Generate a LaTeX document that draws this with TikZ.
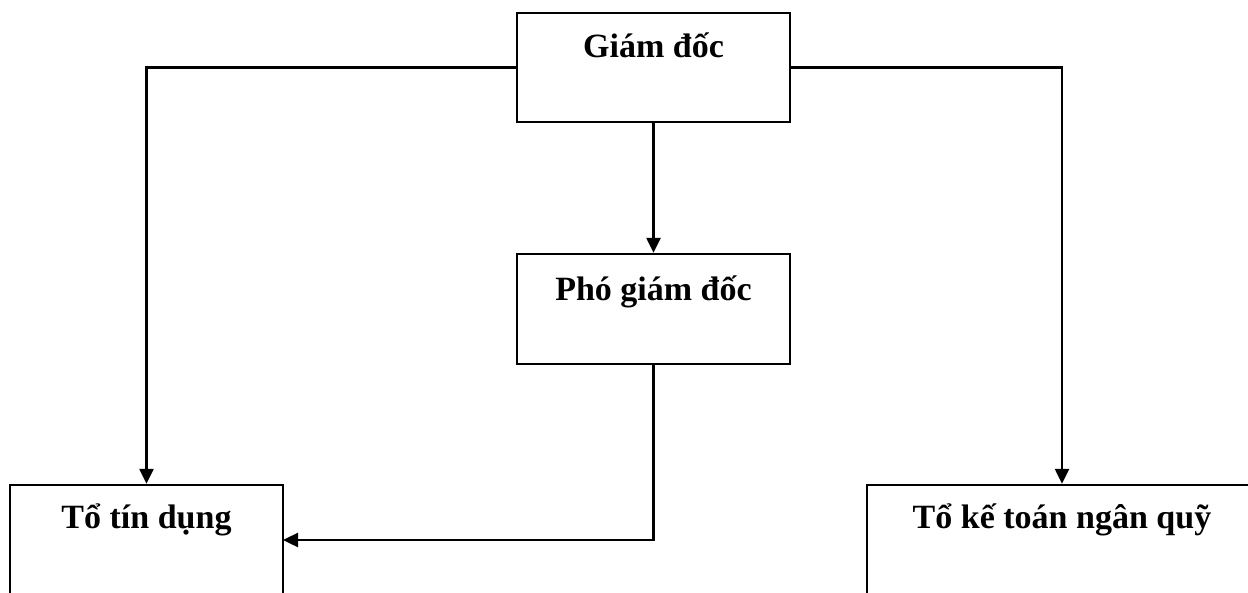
\documentclass[tikz,border=0pt]{standalone}
\usepackage{fontspec}
\setmainfont{Liberation Serif}
\usetikzlibrary{arrows.meta}
\begin{document}
\begin{tikzpicture}[x=1pt,y=-1pt,
  box/.style={draw,line width=2.4pt,inner sep=0pt},
  lbl/.style={anchor=base,inner sep=0pt,font=\bfseries\fontsize{34}{40}\selectfont},
  conn/.style={line width=2.4pt,-{Triangle[length=15pt,width=14pt]}}]
\useasboundingbox (0,0) rectangle (1248,592);
\clip (0,0) rectangle (1248,592);
\node[box,minimum width=273pt,minimum height=109pt] (gd) at (653.5,67.5) {};
\node[box,minimum width=273pt,minimum height=110pt] (pgd) at (653.5,309) {};
\node[box,minimum width=273pt,minimum height=155pt] (td) at (146.5,562.5) {};
\node[box,minimum width=390pt,minimum height=155pt] (kt) at (1062,562.5) {};
\node[lbl] (gdt) at (653.5,57) {Giám đốc};
\node[lbl] (pgdt) at (653.5,300) {Phó giám đốc};
\node[lbl] (tdt) at (146.5,528) {Tổ tín dụng};
\node[lbl] (ktt) at (1062,528) {Tổ kế toán ngân quỹ};
\coordinate (tdin) at (283,540);
\draw[conn] (gd.west) -| (td.north);
\draw[conn] (gd.east) -| (kt.north);
\draw[conn] (gd.south) -- (pgd.north);
\draw[conn] (pgd.south) |- (tdin);
\end{tikzpicture}
\end{document}
